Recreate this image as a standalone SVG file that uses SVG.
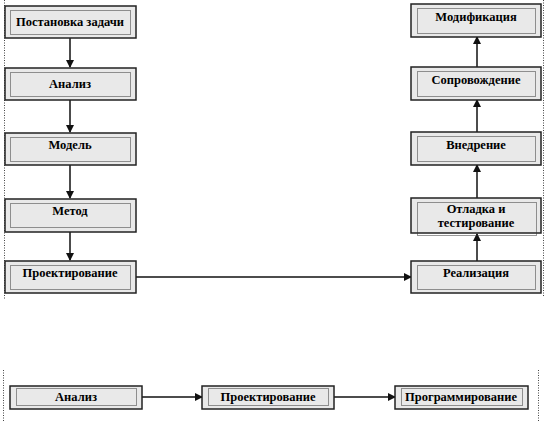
<svg xmlns="http://www.w3.org/2000/svg" width="547" height="421" viewBox="0 0 547 421">
<style>
.box{fill:#e9e9e9;stroke:#222;stroke-width:1.5}
.in{fill:none;stroke:#333;stroke-width:1;stroke-dasharray:1 1}
.t{font-family:"Liberation Serif","Times New Roman",serif;font-weight:bold;font-size:12.5px;fill:#000;text-anchor:middle}
.c{stroke:#111;stroke-width:1.5;fill:none}
.m{stroke:#444;stroke-width:1;stroke-dasharray:1 1.5;fill:none}
</style>
<defs>
<marker id="a" markerWidth="8" markerHeight="8" refX="7" refY="4" orient="auto" markerUnits="userSpaceOnUse">
<path d="M0,0 L8,4 L0,8 z" fill="#111"/>
</marker>
</defs>
<rect width="547" height="421" fill="#fff"/>
<g id="margins">
<line class="m" x1="4.5" y1="0" x2="4.5" y2="300"/>
<line class="m" x1="543.5" y1="0" x2="543.5" y2="296"/>
<line class="m" x1="3.5" y1="370" x2="3.5" y2="421"/>
<line class="m" x1="538.5" y1="370" x2="538.5" y2="421"/>
</g>
<g id="connectors">
<line class="c" x1="70" y1="38" x2="70" y2="67" marker-end="url(#a)"/>
<line class="c" x1="70" y1="100" x2="70" y2="132" marker-end="url(#a)"/>
<line class="c" x1="70" y1="165" x2="70" y2="198" marker-end="url(#a)"/>
<line class="c" x1="70" y1="232" x2="70" y2="260" marker-end="url(#a)"/>
<line class="c" x1="136" y1="277" x2="411" y2="277" marker-end="url(#a)"/>
<line class="c" x1="477" y1="261" x2="477" y2="234" marker-end="url(#a)"/>
<line class="c" x1="477" y1="198" x2="477" y2="165" marker-end="url(#a)"/>
<line class="c" x1="477" y1="132" x2="477" y2="100" marker-end="url(#a)"/>
<line class="c" x1="477" y1="67" x2="477" y2="37" marker-end="url(#a)"/>
<line class="c" x1="142" y1="397" x2="202" y2="397" marker-end="url(#a)"/>
<line class="c" x1="334" y1="397" x2="395" y2="397" marker-end="url(#a)"/>
</g>
<g id="n1"><rect class="box" x="5" y="6" width="131" height="32"/><rect class="in" x="10.5" y="10.5" width="120" height="24"/><text class="t" x="70" y="26">Постановка задачи</text></g>
<g id="n2"><rect class="box" x="5" y="68" width="131" height="32"/><rect class="in" x="10.5" y="72.5" width="120" height="24"/><text class="t" x="70" y="88">Анализ</text></g>
<g id="n3"><rect class="box" x="5" y="133" width="131" height="32"/><rect class="in" x="10.5" y="137.5" width="120" height="24"/><text class="t" x="70" y="149">Модель</text></g>
<g id="n4"><rect class="box" x="5" y="199" width="131" height="33"/><rect class="in" x="10.5" y="203.5" width="120" height="24"/><text class="t" x="70" y="215">Метод</text></g>
<g id="n5"><rect class="box" x="5" y="261" width="131" height="32"/><rect class="in" x="10.5" y="265.5" width="120" height="24"/><text class="t" x="70" y="277">Проектирование</text></g>
<g id="n6"><rect class="box" x="411" y="4" width="130" height="33"/><rect class="in" x="417.5" y="8.5" width="118" height="25"/><text class="t" x="476" y="21">Модификация</text></g>
<g id="n7"><rect class="box" x="411" y="67" width="130" height="33"/><rect class="in" x="417.5" y="71.5" width="118" height="25"/><text class="t" x="476" y="84">Сопровождение</text></g>
<g id="n8"><rect class="box" x="411" y="132" width="130" height="33"/><rect class="in" x="417.5" y="136.5" width="118" height="25"/><text class="t" x="476" y="149">Внедрение</text></g>
<g id="n9"><rect class="box" x="411" y="198" width="130" height="35"/><rect class="in" x="417.5" y="202.5" width="119" height="33"/><text class="t" x="476" y="213">Отладка и</text><text class="t" x="476" y="227">тестирование</text></g>
<g id="n10"><rect class="box" x="411" y="261" width="130" height="32"/><rect class="in" x="417.5" y="265.5" width="118" height="24"/><text class="t" x="476" y="277">Реализация</text></g>
<g id="n11"><rect class="box" x="10" y="386" width="132" height="23"/><rect class="in" x="16.5" y="388.5" width="120" height="17"/><text class="t" x="76" y="401">Анализ</text></g>
<g id="n12"><rect class="box" x="202" y="386" width="132" height="23"/><rect class="in" x="208.5" y="388.5" width="120" height="17"/><text class="t" x="268" y="401">Проектирование</text></g>
<g id="n13"><rect class="box" x="395" y="386" width="133" height="23"/><rect class="in" x="401.5" y="388.5" width="121" height="17"/><text class="t" x="461" y="401">Программирование</text></g>
</svg>
